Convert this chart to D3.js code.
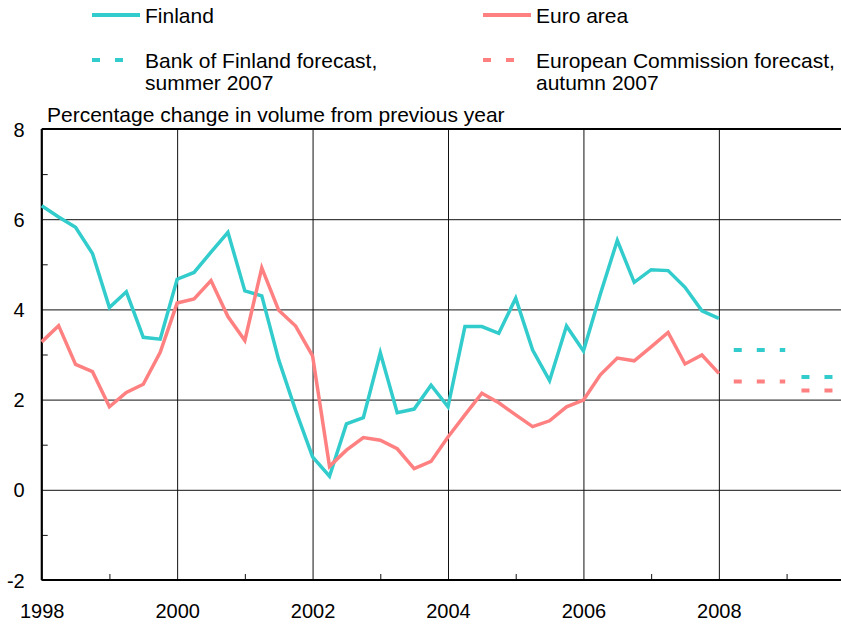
<!DOCTYPE html>
<html lang="en">
<head>
    <meta charset="UTF-8">
    <title>GDP growth: Finland and euro area</title>
    <style>
        body {
            margin: 0;
            background: #fff;
        }
        svg {
            display: block;
            font-family: "Liberation Sans", Arial, sans-serif;
        }
        .grid line {
            stroke: #111;
            stroke-width: 1;
        }
        .grid text {
            font-size: 20px;
            fill: #000;
        }
    </style>
    <script src="https://d3js.org/d3.v7.min.js"></script>
</head>
<body>
<script>
    // quarterly data, starting 1998 Q1
    const startYear = 1998
    const finland = [6.30, 6.05, 5.82, 5.24, 4.04, 4.39, 3.38, 3.34,
        4.67, 4.82, 5.27, 5.71, 4.41, 4.30, 2.88, 1.76,
        0.73, 0.30, 1.46, 1.60, 3.04, 1.71, 1.79, 2.32,
        1.84, 3.62, 3.62, 3.47, 4.25, 3.10, 2.42, 3.63,
        3.08, 4.34, 5.53, 4.60, 4.88, 4.86, 4.49, 3.97, 3.80]
    const euroArea = [3.28, 3.64, 2.78, 2.62, 1.84, 2.16, 2.34, 3.05,
        4.14, 4.23, 4.64, 3.84, 3.31, 4.92, 3.98, 3.63,
        2.97, 0.52, 0.88, 1.16, 1.10, 0.91, 0.47, 0.63,
        1.17, 1.66, 2.14, 1.93, 1.66, 1.40, 1.53, 1.84,
        1.99, 2.55, 2.92, 2.86, 3.17, 3.49, 2.79, 2.99, 2.58]

    // annual forecasts
    const forecastYears = [2008, 2009]
    const finlandForecast = [3.1, 2.5]
    const euroForecast = [2.4, 2.2]

    const xTicks = [1998, 2000, 2002, 2004, 2006, 2008]
    const xMinor = [1999, 2001, 2003, 2005, 2007, 2009]
    const yTicks = [-2, 0, 2, 4, 6, 8]
    const yMinor = [-1, 1, 3, 5, 7]

    const legendItems = [
        {label: ["Finland"], color: "#33cccc", dashed: false, x: 92, y: 15},
        {label: ["Euro area"], color: "#ff8080", dashed: false, x: 483, y: 15},
        {label: ["Bank of Finland forecast,", "summer 2007"], color: "#33cccc", dashed: true, x: 92, y: 60},
        {label: ["European Commission forecast,", "autumn 2007"], color: "#ff8080", dashed: true, x: 483, y: 60}
    ]

    const width = 841, height = 625
    const plotLeft = 41.7, plotTop = 129, plotBottom = 580
    const svg = d3.select("body").append("svg")
        .attr("width", width)
        .attr("height", height)

    const x = d3.scaleLinear().domain([1998, 2010]).range([plotLeft, 854.3])
    const y = d3.scaleLinear().domain([-2, 8]).range([plotBottom, plotTop])

    // gridlines + labels
    const xAxis = svg.append("g")
        .attr("class", "grid")
        .attr("transform", `translate(0,${plotBottom})`)
        .call(d3.axisBottom(x).tickValues(xTicks).tickFormat(d => String(d))
            .tickSize(-(plotBottom - plotTop)).tickPadding(24))
    xAxis.select(".domain").remove()

    svg.append("g")
        .attr("class", "grid")
        .attr("transform", `translate(0,${plotBottom})`)
        .call(d3.axisBottom(x).tickValues(xMinor).tickFormat("").tickSize(-6))
        .select(".domain").remove()

    const yAxis = svg.append("g")
        .attr("class", "grid")
        .attr("transform", `translate(${plotLeft},0)`)
        .call(d3.axisLeft(y).tickValues(yTicks).tickFormat(d => String(d))
            .tickSize(-(x(2010) - plotLeft)).tickPadding(17))
    yAxis.select(".domain").remove()
    yAxis.selectAll("text").attr("dy", "0.35em")

    svg.append("g")
        .attr("class", "grid")
        .attr("transform", `translate(${plotLeft},0)`)
        .call(d3.axisLeft(y).tickValues(yMinor).tickFormat("").tickSize(-6))
        .select(".domain").remove()

    // frame lines
    svg.append("line")
        .attr("x1", plotLeft).attr("x2", width)
        .attr("y1", y(-2)).attr("y2", y(-2))
        .attr("stroke", "#000").attr("stroke-width", 2)
    svg.append("line")
        .attr("x1", plotLeft).attr("x2", width)
        .attr("y1", y(8)).attr("y2", y(8))
        .attr("stroke", "#000").attr("stroke-width", 2)
    svg.append("line")
        .attr("x1", plotLeft).attr("x2", plotLeft)
        .attr("y1", y(8)).attr("y2", y(-2))
        .attr("stroke", "#000").attr("stroke-width", 2)

    // title
    svg.append("text")
        .attr("x", 47)
        .attr("y", 121.5)
        .attr("font-size", 21)
        .text("Percentage change in volume from previous year")

    // series
    const line = d3.line()
        .x((d, i) => x(startYear + i * 0.25))
        .y(d => y(d))

    const series = [
        {values: finland, color: "#33cccc"},
        {values: euroArea, color: "#ff8080"}
    ]
    svg.selectAll(".series")
        .data(series)
        .enter()
        .append("path")
        .attr("class", "series")
        .attr("d", d => line(d.values))
        .attr("fill", "none")
        .attr("stroke", d => d.color)
        .attr("stroke-width", 3.5)
        .attr("stroke-linejoin", "miter")

    // forecasts: dashed segments across each year
    const forecasts = []
    forecastYears.forEach((yr, i) => {
        forecasts.push({year: yr, value: finlandForecast[i], color: "#33cccc"})
        forecasts.push({year: yr, value: euroForecast[i], color: "#ff8080"})
    })
    svg.selectAll(".forecast")
        .data(forecasts)
        .enter()
        .append("line")
        .attr("class", "forecast")
        .attr("x1", d => x(d.year + 0.22))
        .attr("x2", d => x(d.year + 0.98))
        .attr("y1", d => y(d.value))
        .attr("y2", d => y(d.value))
        .attr("stroke", d => d.color)
        .attr("stroke-width", 4)
        .attr("stroke-dasharray", "8,15")

    // legend
    const legend = svg.selectAll(".legend")
        .data(legendItems)
        .enter()
        .append("g")
        .attr("class", "legend")
        .attr("transform", d => `translate(${d.x},${d.y})`)
    legend.append("line")
        .attr("x1", 0)
        .attr("x2", d => d.dashed ? 32 : 48)
        .attr("stroke", d => d.color)
        .attr("stroke-width", 4)
        .attr("stroke-dasharray", d => d.dashed ? "8,15" : null)
    legend.each(function (d) {
        const t = d3.select(this).append("text")
            .attr("x", 53)
            .attr("y", 8)
            .attr("font-size", 21)
        d.label.forEach((s, i) => {
            t.append("tspan")
                .attr("x", 53)
                .attr("dy", i === 0 ? 0 : 22.4)
                .text(s)
        })
    })
</script>
</body>
</html>
